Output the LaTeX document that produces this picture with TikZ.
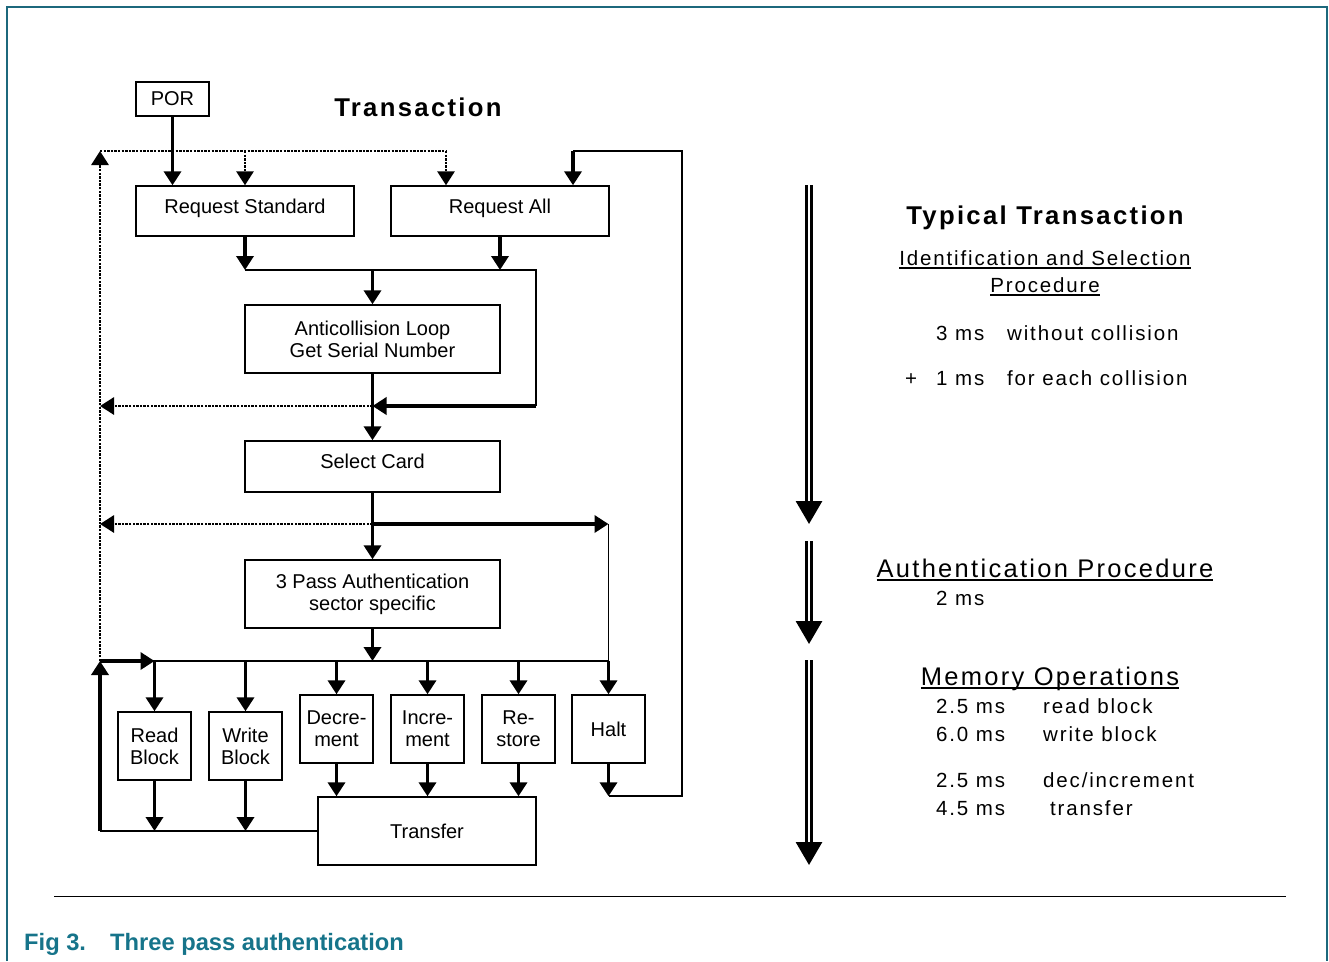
\documentclass[tikz,border=0pt]{standalone}
\usepackage{fontspec}
\setmainfont{Liberation Sans}
\newfontfamily\widefont[LetterSpace=9]{Liberation Sans}
\usetikzlibrary{arrows.meta}
\definecolor{figteal}{RGB}{22,116,138}
\definecolor{frameteal}{RGB}{28,104,124}
\newsavebox\ulbox
\newcommand\ulined[1]{\sbox\ulbox{#1}\leavevmode\rlap{\rule[-4pt]{\wd\ulbox}{1.8pt}}\usebox\ulbox}
\tikzset{
  box/.style={draw, line width=1.4pt, inner sep=0pt, align=center,
    font=\fontsize{20}{22}\selectfont},
  one line/.style={text height=14pt, text depth=10pt},
  wide box/.style={box, one line, minimum width=218pt, minimum height=50pt},
  mid box/.style={box, minimum width=255pt},
  op box/.style={box, minimum width=73pt, minimum height=68pt},
  link/.style={line width=1.7pt},
  flow/.style={line width=3.6pt, -{Triangle[length=14pt,width=17pt]}},
  dots/.style={line width=2.9pt, dash pattern=on 2.4pt off 1.2pt},
  dotflow/.style={dots, -{Triangle[length=14pt,width=17pt]}},
  stage/.style={double, double distance=2pt, line width=3pt,
    -{Triangle[length=23pt,width=26pt]}},
  head/.style={anchor=base, font=\widefont\bfseries\fontsize{25.7}{30}\selectfont},
  note/.style={anchor=base west, inner sep=0pt, font=\widefont\fontsize{20.5}{24}\selectfont},
  sub/.style={anchor=base, inner sep=0pt, font=\widefont\fontsize{25.5}{30}\selectfont}
}

\begin{document}
\begin{tikzpicture}[x=1pt,y=-1pt]
  \useasboundingbox (0,0) rectangle (1329,961);
  \draw[frameteal, line width=1.5pt] (7,961) -- (7,7) -- (1327,7) -- (1327,961);

  % flow chart
  \node[box, minimum width=73pt, minimum height=34pt] (POR) at (172.5,99) {POR};
  \node[head] (title) at (418,116) {Transaction};
  \node[wide box] (RS) at (245,211) {Request Standard};
  \node[wide box] (RA) at (500,211) {Request All};
  \node[mid box, minimum height=68pt] (AC) at (372.5,339) {Anticollision Loop\\Get Serial Number};
  \node[mid box, one line, minimum height=51pt] (SC) at (372.5,466.5) {Select Card};
  \node[mid box, minimum height=68pt] (PA) at (372.5,594) {3 Pass Authentication\\sector specific};
  \node[op box] (RB) at (154.5,746) {Read\\Block};
  \node[op box] (WB) at (245.5,746) {Write\\Block};
  \node[op box] (DE) at (336.5,729) {Decre-\\ment};
  \node[op box] (IN) at (427.5,729) {Incre-\\ment};
  \node[op box] (RE) at (518.5,729) {Re-\\store};
  \node[op box] (HA) at (608.5,729) {Halt};
  \node[box, minimum width=218pt, minimum height=68pt] (TR) at (427,831) {Transfer};

  \coordinate (tl) at (100,151);
  \coordinate (tr) at (446,151);
  \coordinate (lp) at (573,151);
  \coordinate (rl) at (682,151);
  \coordinate (mj) at (372.5,270);
  \coordinate (cl) at (536,406);
  \coordinate (al) at (372.5,406);
  \coordinate (sj) at (372.5,524);
  \coordinate (bus) at (372.5,661);

  \draw[flow] (POR.south) -- (POR.south |- RS.north);
  \draw[dots] (tl) -- (tr);
  \draw[dotflow] (RS.north |- tl) -- (RS.north);
  \draw[dotflow] (tr) -- (tr |- RA.north);
  \draw[link] (HA.south |- TR.north) -| (rl) -- (lp);
  \draw[flow] (lp) -- (lp |- RA.north);
  \draw[flow] (RS.south) -- (RS.south |- mj);
  \draw[flow] (RA.south) -- (RA.south |- mj);
  \draw[link] (RS.south |- mj) -| (cl);
  \draw[flow] (mj) -- (AC.north);
  \draw[flow] (cl) -- (al);
  \draw[flow] (AC.south) -- (SC.north);
  \draw[dotflow] (al) -- (al -| tl);
  \draw[flow] (SC.south) -- (PA.north);
  \draw[flow] (sj) -- (sj -| HA);
  \draw[dotflow] (sj) -- (sj -| tl);
  \draw[link] (sj -| HA) -- (bus -| HA);
  \draw[flow] (bus -| HA) -- (HA.north);
  \draw[flow] (PA.south) -- (bus);
  \draw[link] (bus -| tl) -- (bus -| HA);
  \draw[flow] (bus -| tl) -- (bus -| RB);
  \foreach \b in {RB,WB,DE,IN,RE}
    \draw[flow] (bus -| \b) -- (\b.north);
  \foreach \b in {RB,WB}
    \draw[flow] (\b.south) -- (\b |- TR);
  \foreach \b in {DE,IN,RE,HA}
    \draw[flow] (\b.south) -- (\b |- TR.north);
  \draw[link] (TR.west) -- (TR.west -| tl);
  \draw[flow] (TR.west -| tl) -- (bus -| tl);
  \draw[dotflow] (bus -| tl) -- (tl);

  % timing column
  \coordinate (s1) at (809,185);
  \coordinate (e1) at (809,524);
  \coordinate (s2) at (809,541);
  \coordinate (e2) at (809,644);
  \coordinate (s3) at (809,660);
  \coordinate (e3) at (809,865);
  \draw[stage] (s1) -- (e1);
  \draw[stage] (s2) -- (e2);
  \draw[stage] (s3) -- (e3);

  \node[head] (typ) at (1045,224) {Typical Transaction};
  \node[anchor=base, inner sep=0pt, font=\widefont\fontsize{20.5}{24}\selectfont]
    (idsel) at (1045,265) {\ulined{Identification and Selection}};
  \node[anchor=base, inner sep=0pt, font=\widefont\fontsize{20.5}{24}\selectfont]
    (proc) at (1045,292) {\ulined{Procedure}};
  \node[note] (t1) at (936,340) {3 ms};
  \node[note] (d1) at (1007,340) {without collision};
  \node[note] (pl) at (905,385) {+};
  \node[note] (t2) at (936,385) {1 ms};
  \node[note] (d2) at (1007,385) {for each collision};
  \node[sub] (auth) at (1045,577) {\ulined{Authentication Procedure}};
  \node[note] (t3) at (936,605) {2 ms};
  \node[sub] (mem) at (1050,685) {\ulined{Memory Operations}};
  \node[note] (t4) at (936,713) {2.5 ms};
  \node[note] (d4) at (1043,713) {read block};
  \node[note] (t5) at (936,741) {6.0 ms};
  \node[note] (d5) at (1043,741) {write block};
  \node[note] (t6) at (936,787) {2.5 ms};
  \node[note] (d6) at (1043,787) {dec/increment};
  \node[note] (t7) at (936,815) {4.5 ms};
  \node[note] (d7) at (1050,815) {transfer};

  % caption
  \draw[line width=1pt] (54,896) -- (1286,896);
  \node[anchor=base west, inner sep=0pt, text=figteal, font=\bfseries\fontsize{23.7}{28}\selectfont]
    (fig) at (24,950) {Fig 3.};
  \node[anchor=base west, inner sep=0pt, text=figteal, font=\bfseries\fontsize{23.7}{28}\selectfont]
    (cap) at (110,950) {Three pass authentication};
\end{tikzpicture}
\end{document}
